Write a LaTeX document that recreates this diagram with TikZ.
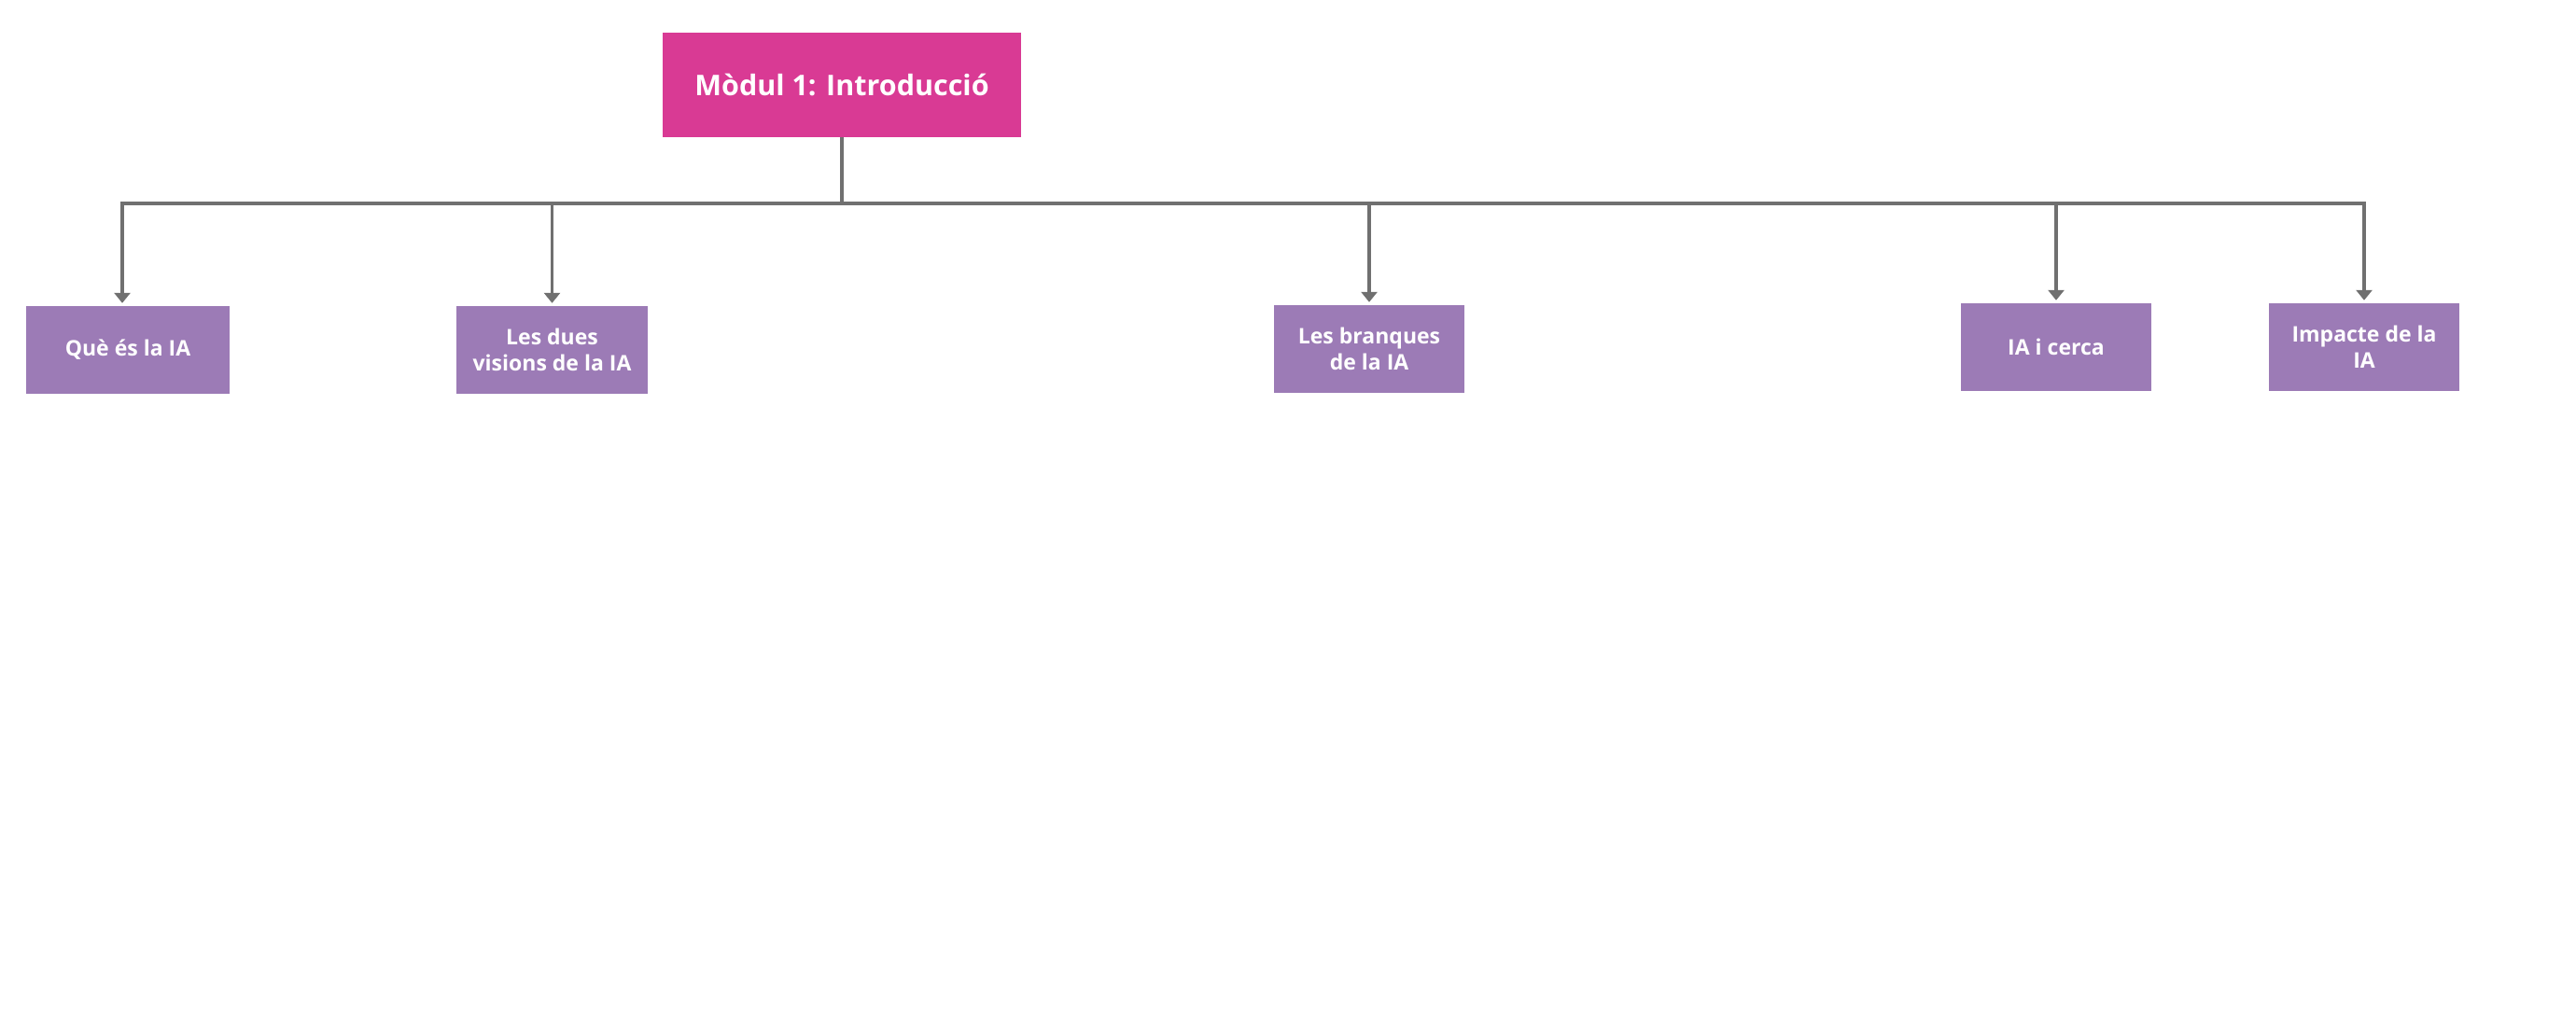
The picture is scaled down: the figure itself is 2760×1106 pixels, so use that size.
\documentclass[tikz,border=0pt]{standalone}
\usepackage{fontspec}
\setmainfont{Open Sans}
\usetikzlibrary{arrows.meta}
\definecolor{rootcol}{HTML}{D93A94}
\definecolor{childcol}{HTML}{9C7BB6}
\definecolor{linecol}{HTML}{707070}
\tikzset{
  rootbox/.style={fill=rootcol, text=white, inner sep=0pt, minimum width=384pt, minimum height=112pt, font=\bfseries\fontsize{30.5}{36}\selectfont},
  childbox/.style={fill=childcol, text=white, inner sep=0pt, minimum height=94pt, align=center, font=\bfseries\fontsize{23}{28}\selectfont},
  conn/.style={draw=linecol, line width=4pt},
  arrowconn/.style={draw=linecol, line width=3.5pt, -{Triangle[length=11pt,width=17pt]}, shorten >=3pt}
}
\begin{document}
\begin{tikzpicture}[x=1pt,y=-1pt]
\useasboundingbox (0,0) rectangle (2760,1106);
\node[rootbox] (root) at (902,91) {Mòdul 1: Introducció};
\node[childbox, minimum width=218pt] (c1) at (137,375) {Què és la IA};
\node[childbox, minimum width=205pt] (c2) at (591.5,375) {Les dues\\visions de la IA};
\node[childbox, minimum width=204pt] (c3) at (1467,374) {Les branques\\de la IA};
\node[childbox, minimum width=204pt] (c4) at (2203,372) {IA i cerca};
\node[childbox, minimum width=204pt] (c5) at (2533,372) {Impacte de la\\IA};
\coordinate (bl) at (131,218);
\coordinate (br) at (2533,218);
\draw[conn] (root.south) -- (root.south |- bl);
\draw[conn, line cap=rect] (bl) -- (br);
\draw[arrowconn] (bl) -- (bl |- c1.north);
\foreach \c in {c2,c3,c4,c5} {
  \draw[arrowconn] (\c.north |- bl) -- (\c.north);
}
\end{tikzpicture}
\end{document}
